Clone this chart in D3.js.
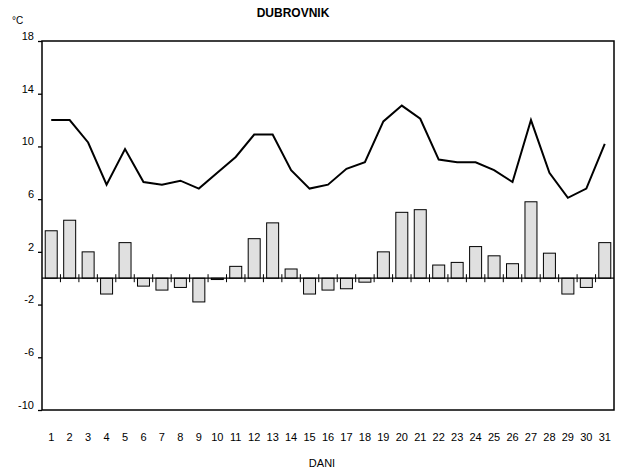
<!DOCTYPE html>
<html>
<head>
<meta charset="utf-8">
<script src="https://cdn.jsdelivr.net/npm/d3@7"></script>
<style>
  body { margin: 0; background: #fff; }
  svg text { font-family: "Liberation Sans", Arial, sans-serif; fill: #000; }
</style>
</head>
<body>
<svg id="chart" width="620" height="473"></svg>
<script>
// days of the month
var days = d3.range(1, 32);
// daily temperature line (°C)
var tempLine = [12.0, 12.0, 10.3, 7.1, 9.8, 7.3, 7.1, 7.4, 6.8, 8.0,
                9.2, 10.9, 10.9, 8.2, 6.8, 7.1, 8.3, 8.8, 11.9, 13.1,
                12.1, 9.0, 8.8, 8.8, 8.2, 7.3, 12.0, 8.0, 6.1, 6.8, 10.2];
// daily anomaly bars (°C)
var tempBars = [3.6, 4.4, 2.0, -1.2, 2.7, -0.6, -0.9, -0.7, -1.8, -0.1,
                0.9, 3.0, 4.2, 0.7, -1.2, -0.9, -0.8, -0.3, 2.0, 5.0,
                5.2, 1.0, 1.2, 2.4, 1.7, 1.1, 5.8, 1.9, -1.2, -0.7, 2.7];
var yTicks = [18, 14, 10, 6, 2, -2, -6, -10];

var margin = {top: 41, right: 6, bottom: 63, left: 42};
var width = 620 - margin.left - margin.right;
var height = 473 - margin.top - margin.bottom;

var svg = d3.select('#chart');
var g = svg.append('g')
    .attr('transform', 'translate(' + margin.left + ',' + margin.top + ')');

var x = d3.scaleBand().domain(days).range([0, width]).paddingInner(0.35).paddingOuter(0.175);
var xb = d3.scaleBand().domain(days).range([0, width]);
var y = d3.scaleLinear().domain([-10, 18]).range([height, 0]);

// bars
g.selectAll('.bar')
    .data(tempBars)
    .enter().append('rect')
        .attr('class', 'bar')
        .attr('x', function(d, i) { return x(days[i]); })
        .attr('width', x.bandwidth())
        .attr('y', function(d) { return y(Math.max(0, d)); })
        .attr('height', function(d) { return Math.max(1, Math.abs(y(d) - y(0))); })
        .attr('fill', '#e0e0e0')
        .attr('stroke', '#000')
        .attr('stroke-width', 1);

// zero line with ticks at band boundaries
g.append('line')
    .attr('x1', 0).attr('x2', width)
    .attr('y1', y(0)).attr('y2', y(0))
    .attr('stroke', '#000').attr('stroke-width', 1.3);

g.selectAll('.ztick')
    .data(days.slice(1))
    .enter().append('line')
        .attr('class', 'ztick')
        .attr('x1', function(d) { return xb(d); })
        .attr('x2', function(d) { return xb(d); })
        .attr('y1', y(0) - 4)
        .attr('y2', y(0) + 4)
        .attr('stroke', '#000')
        .attr('stroke-width', 1);

// temperature line
var line = d3.line()
    .x(function(d, i) { return xb(days[i]) + xb.bandwidth() / 2; })
    .y(function(d) { return y(d); });

g.append('path')
    .datum(tempLine)
    .attr('d', line)
    .attr('fill', 'none')
    .attr('stroke', '#000')
    .attr('stroke-width', 2)
    .attr('stroke-linejoin', 'miter');

// frame
g.append('rect')
    .attr('x', 0).attr('y', 0)
    .attr('width', width).attr('height', height)
    .attr('fill', 'none')
    .attr('stroke', '#000')
    .attr('stroke-width', 1.5);

// y axis (plain hyphen for negatives, as in the original)
var yAxis = g.append('g')
    .call(d3.axisLeft(y).tickValues(yTicks).tickFormat(function(d) { return String(d); })
        .tickSize(4).tickPadding(4).tickSizeOuter(0));
yAxis.select('.domain').remove();
yAxis.selectAll('line').attr('stroke', '#000').attr('stroke-width', 1.3);
yAxis.selectAll('text')
    .attr('font-size', 11)
    .attr('dy', '-0.15em')
    .style('font-family', '"Liberation Sans", Arial, sans-serif');

// x labels
g.selectAll('.xlab')
    .data(days)
    .enter().append('text')
        .attr('class', 'xlab')
        .attr('x', function(d) { return xb(d) + xb.bandwidth() / 2; })
        .attr('y', height + 31)
        .attr('text-anchor', 'middle')
        .attr('font-size', 11)
        .text(function(d) { return d; });

// titles
svg.append('text')
    .attr('x', 293).attr('y', 17)
    .attr('text-anchor', 'middle')
    .attr('font-size', 12)
    .attr('font-weight', 'bold')
    .text('DUBROVNIK');

svg.append('text')
    .attr('x', 12).attr('y', 24)
    .attr('font-size', 10)
    .text('°C');

svg.append('text')
    .attr('x', 322).attr('y', 467)
    .attr('text-anchor', 'middle')
    .attr('font-size', 11)
    .text('DANI');
</script>
</body>
</html>
